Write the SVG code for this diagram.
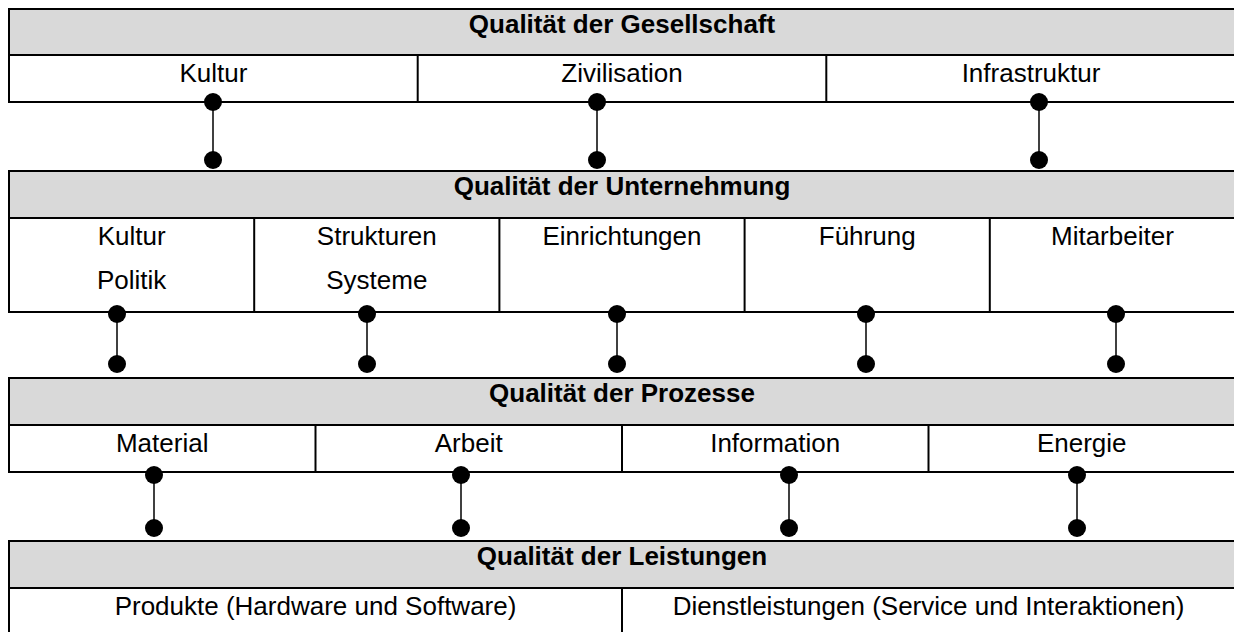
<svg xmlns="http://www.w3.org/2000/svg" width="1234" height="632" viewBox="0 0 1234 632">
<style>
.box{fill:#ffffff;stroke:#000;stroke-width:2}
.hdr{fill:#d9d9d9;stroke:#000;stroke-width:2}
.div{stroke:#000;stroke-width:2;fill:none}
.t{font-family:"Liberation Sans",Arial,sans-serif;font-size:26px;fill:#000;text-anchor:middle}
.b{font-weight:bold}
.con{stroke:#000;stroke-width:1.5}
.dot{fill:#000}
</style>
<rect width="1234" height="632" fill="#fff"/>
<g id="gesellschaft">
<rect class="box" x="9" y="9" width="1226" height="93"/>
<rect class="hdr" x="9" y="9" width="1226" height="46"/>
<text class="t b" x="622" y="33">Qualität der Gesellschaft</text>
<line class="div" x1="417.7" y1="55" x2="417.7" y2="102"/>
<line class="div" x1="826.3" y1="55" x2="826.3" y2="102"/>
<text class="t" x="213.5" y="82">Kultur</text>
<text class="t" x="622" y="82">Zivilisation</text>
<text class="t" x="1031" y="82">Infrastruktur</text>
</g>
<g id="unternehmung">
<rect class="box" x="9" y="171" width="1226" height="141"/>
<rect class="hdr" x="9" y="171" width="1226" height="47"/>
<text class="t b" x="622" y="195">Qualität der Unternehmung</text>
<line class="div" x1="254.2" y1="218" x2="254.2" y2="312"/>
<line class="div" x1="499.4" y1="218" x2="499.4" y2="312"/>
<line class="div" x1="744.6" y1="218" x2="744.6" y2="312"/>
<line class="div" x1="989.8" y1="218" x2="989.8" y2="312"/>
<text class="t" x="131.6" y="245">Kultur</text>
<text class="t" x="131.6" y="289">Politik</text>
<text class="t" x="376.8" y="245">Strukturen</text>
<text class="t" x="376.8" y="289">Systeme</text>
<text class="t" x="622" y="245">Einrichtungen</text>
<text class="t" x="867.2" y="245">Führung</text>
<text class="t" x="1112.4" y="245">Mitarbeiter</text>
</g>
<g id="prozesse">
<rect class="box" x="9" y="378" width="1226" height="94"/>
<rect class="hdr" x="9" y="378" width="1226" height="47"/>
<text class="t b" x="622" y="402">Qualität der Prozesse</text>
<line class="div" x1="315.5" y1="425" x2="315.5" y2="472"/>
<line class="div" x1="622" y1="425" x2="622" y2="472"/>
<line class="div" x1="928.5" y1="425" x2="928.5" y2="472"/>
<text class="t" x="162.2" y="452">Material</text>
<text class="t" x="468.7" y="452">Arbeit</text>
<text class="t" x="775.2" y="452">Information</text>
<text class="t" x="1081.7" y="452">Energie</text>
</g>
<g id="leistungen">
<rect class="box" x="9" y="541" width="1226" height="100"/>
<rect class="hdr" x="9" y="541" width="1226" height="47"/>
<text class="t b" x="622" y="565">Qualität der Leistungen</text>
<line class="div" x1="622" y1="588" x2="622" y2="641"/>
<text class="t" x="315.5" y="615">Produkte (Hardware und Software)</text>
<text class="t" x="928.5" y="615">Dienstleistungen (Service und Interaktionen)</text>
</g>
<g id="connectors">
<g><line class="con" x1="213" y1="102" x2="213" y2="160"/><circle class="dot" cx="213" cy="102" r="9"/><circle class="dot" cx="213" cy="160" r="9"/></g>
<g><line class="con" x1="597" y1="102" x2="597" y2="160"/><circle class="dot" cx="597" cy="102" r="9"/><circle class="dot" cx="597" cy="160" r="9"/></g>
<g><line class="con" x1="1039" y1="102" x2="1039" y2="160"/><circle class="dot" cx="1039" cy="102" r="9"/><circle class="dot" cx="1039" cy="160" r="9"/></g>
<g><line class="con" x1="117" y1="314" x2="117" y2="364"/><circle class="dot" cx="117" cy="314" r="9"/><circle class="dot" cx="117" cy="364" r="9"/></g>
<g><line class="con" x1="367" y1="314" x2="367" y2="364"/><circle class="dot" cx="367" cy="314" r="9"/><circle class="dot" cx="367" cy="364" r="9"/></g>
<g><line class="con" x1="617" y1="314" x2="617" y2="364"/><circle class="dot" cx="617" cy="314" r="9"/><circle class="dot" cx="617" cy="364" r="9"/></g>
<g><line class="con" x1="866" y1="314" x2="866" y2="364"/><circle class="dot" cx="866" cy="314" r="9"/><circle class="dot" cx="866" cy="364" r="9"/></g>
<g><line class="con" x1="1116" y1="314" x2="1116" y2="364"/><circle class="dot" cx="1116" cy="314" r="9"/><circle class="dot" cx="1116" cy="364" r="9"/></g>
<g><line class="con" x1="154" y1="475" x2="154" y2="528"/><circle class="dot" cx="154" cy="475" r="9"/><circle class="dot" cx="154" cy="528" r="9"/></g>
<g><line class="con" x1="461" y1="475" x2="461" y2="528"/><circle class="dot" cx="461" cy="475" r="9"/><circle class="dot" cx="461" cy="528" r="9"/></g>
<g><line class="con" x1="789" y1="475" x2="789" y2="528"/><circle class="dot" cx="789" cy="475" r="9"/><circle class="dot" cx="789" cy="528" r="9"/></g>
<g><line class="con" x1="1077" y1="475" x2="1077" y2="528"/><circle class="dot" cx="1077" cy="475" r="9"/><circle class="dot" cx="1077" cy="528" r="9"/></g>
</g>
</svg>
